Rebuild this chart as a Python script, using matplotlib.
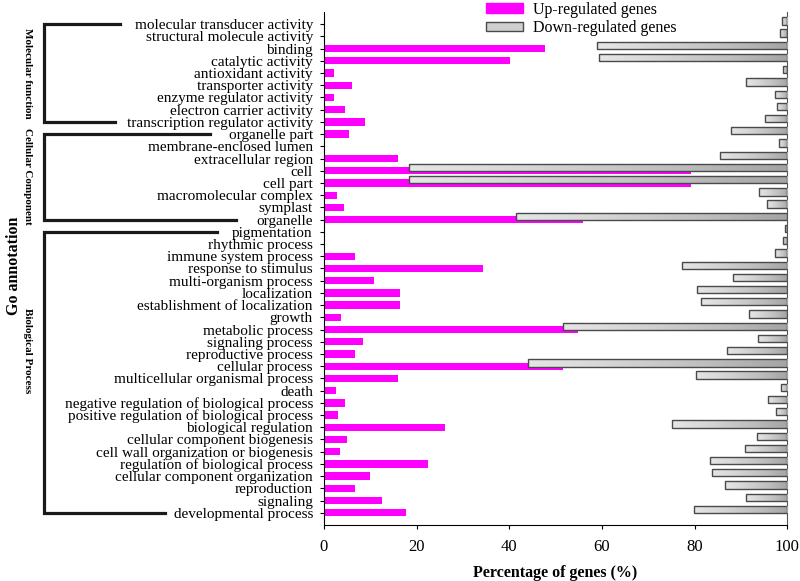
import numpy as np
import matplotlib
matplotlib.use('Agg')
import matplotlib.pyplot as plt
from matplotlib.patches import Patch, Rectangle
from matplotlib.lines import Line2D
import matplotlib.transforms as mtransforms

plt.rcParams['font.family'] = ['Liberation Serif', 'DejaVu Serif']

categories = [
    'molecular transducer activity', 'structural molecule activity', 'binding',
    'catalytic activity', 'antioxidant activity', 'transporter activity',
    'enzyme regulator activity', 'electron carrier activity',
    'transcription regulator activity',
    'organelle part', 'membrane-enclosed lumen', 'extracellular region', 'cell',
    'cell part', 'macromolecular complex', 'symplast', 'organelle',
    'pigmentation', 'rhythmic process', 'immune system process',
    'response to stimulus', 'multi-organism process', 'localization',
    'establishment of localization', 'growth', 'metabolic process',
    'signaling process', 'reproductive process', 'cellular process',
    'multicellular organismal process', 'death',
    'negative regulation of biological process',
    'positive regulation of biological process', 'biological regulation',
    'cellular component biogenesis', 'cell wall organization or biogenesis',
    'regulation of biological process', 'cellular component organization',
    'reproduction', 'signaling', 'developmental process',
]

up_pct = [0, 0, 47.7, 40.1, 2.2, 6.0, 2.2, 4.5, 8.8,
          5.3, 0, 16.0, 79.3, 79.3, 2.7, 4.3, 56.0,
          0, 0, 6.6, 34.4, 10.7, 16.5, 16.4, 3.7, 54.8, 8.4, 6.8, 51.5, 16.0,
          2.6, 4.6, 3.1, 26.1, 5.0, 3.5, 22.4, 9.9, 6.8, 12.6, 17.7]

down_pct = [1.1, 1.5, 41.1, 40.6, 0.8, 9.0, 2.6, 2.2, 4.8,
            12.2, 1.8, 14.5, 81.7, 81.7, 6.1, 4.4, 58.5,
            0.4, 0.8, 2.6, 22.7, 11.6, 19.4, 18.6, 8.2, 48.4, 6.3, 12.9, 56.0,
            19.7, 1.4, 4.2, 2.4, 24.9, 6.6, 9.2, 16.7, 16.3, 13.5, 9.0, 20.1]

# group name, first index, last index
groups = [('Molecular function', 0, 8),
          ('Cellular Component', 9, 16),
          ('Biological Process', 17, 40)]
group_label_y = [4, 12.5, 26.7]
bracket_top_end = [0.150, 0.262, 0.271]
bracket_bot_end = [0.144, 0.295, 0.206]

fig = plt.figure(figsize=(8, 5.81), dpi=100)
ax = fig.add_axes([0.405, 0.0964, 0.579, 0.883])

pos = np.arange(len(categories))
bar_h = 0.6
shift = 0.27

ax.barh(pos, up_pct, height=bar_h, color='#ff00ff', zorder=2,
        label='Up-regulated genes')

# down-regulated bars hang from 100 to the left, with a grey gradient
grad = np.linspace(0, 1, 256).reshape(1, -1)
for p, d in zip(pos, down_pct):
    left = 100 - d
    y0 = p - shift - bar_h / 2
    rect = Rectangle((left, y0), d, bar_h, facecolor='none',
                     edgecolor='#4a4a4a', linewidth=1.0, zorder=4)
    ax.add_patch(rect)
    im = ax.imshow(grad, cmap='Greys', vmin=-0.67, vmax=3.0, aspect='auto',
                   extent=(left, 100, y0 + bar_h, y0), zorder=3,
                   interpolation='bilinear')
    im.set_clip_path(rect)

ax.set_xlim(0, 100)
ax.set_ylim(len(categories), -1)
ax.set_yticks(pos)
ax.set_yticklabels(categories, fontsize=11)
ax.set_xticks([0, 20, 40, 60, 80, 100])
ax.tick_params(axis='x', labelsize=12, direction='out', length=3, pad=7)
ax.tick_params(axis='y', direction='out', length=3, pad=5)
ax.spines['top'].set_visible(False)
ax.spines['right'].set_color('#555555')
ax.set_xlabel('Percentage of genes (%)', fontsize=11.5, fontweight='bold',
              labelpad=7)

handles = [Patch(facecolor='#ff00ff', edgecolor='#ff00ff'),
           Patch(facecolor='#cfcfcf', edgecolor='#4a4a4a')]
fig.legend(handles, ['Up-regulated genes', 'Down-regulated genes'],
           loc='upper left', bbox_to_anchor=(0.608, 0.997), frameon=False,
           fontsize=11.5, handlelength=2.3, handleheight=0.55,
           handletextpad=0.6, labelspacing=0.15, borderpad=0, borderaxespad=0)

# group brackets on the left
trans = mtransforms.blended_transform_factory(fig.transFigure, ax.transData)
bx = 0.055
for (name, a, b), ly, te, be in zip(groups, group_label_y,
                                    bracket_top_end, bracket_bot_end):
    ln = Line2D([te, bx, bx, be], [a, a, b, b], transform=trans,
                color='#1a1a1a', linewidth=2.3, solid_joinstyle='miter',
                clip_on=False)
    fig.add_artist(ln)
    fig.text(0.034, ly, name, transform=trans, rotation=270, ha='center',
             va='center', fontsize=8, fontweight='bold')

fig.text(0.0175, 0.542, 'Go annotation', rotation=90, ha='center',
         va='center', fontsize=11.5, fontweight='bold')

fig.savefig('out.png', dpi=100)
